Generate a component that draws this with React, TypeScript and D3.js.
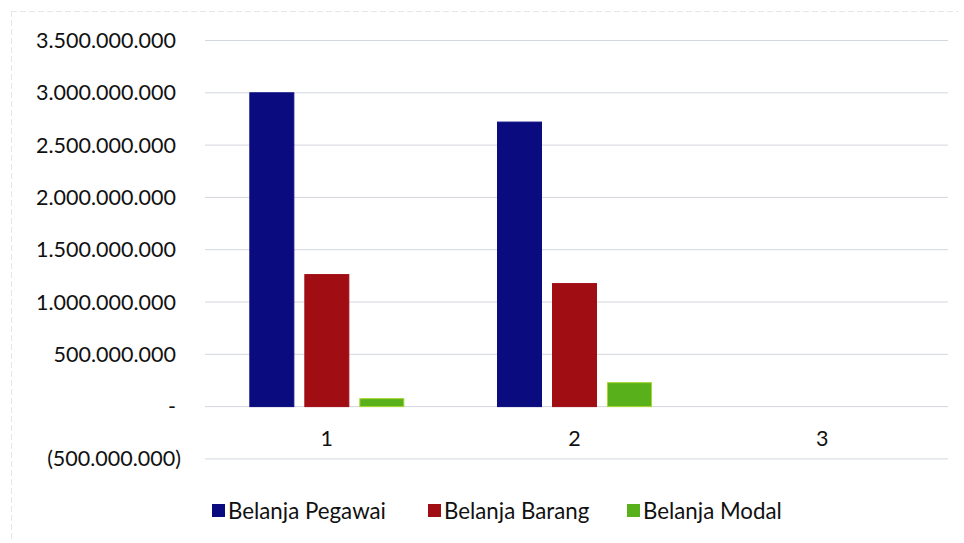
import React from "react";
import * as d3 from "d3";

const categories = ["1", "2", "3"];
const seriesNames = ["Belanja Pegawai", "Belanja Barang", "Belanja Modal"];
const pegawai = [3000000000, 2720000000, 0];
const barang = [1262000000, 1176000000, 0];
const modal = [76000000, 229000000, 0];
const yTicks = [-500000000, 0, 500000000, 1000000000, 1500000000, 2000000000, 2500000000, 3000000000, 3500000000];

const colors = ["#0b0b80", "#a00d12", "#58b01a"];
const strokes = ["#0b0b80", "#a00d12", "#a8d830"];

const W = 964;
const H = 543;
const left = 205;
const right = 948;
const yTop = 40.5;
const yBottom = 458.9;

function fmt(v: number): string {
  if (v === 0) return "-";
  const s = d3.format(",")(Math.abs(v)).replace(/,/g, ".");
  return v < 0 ? `(${s})` : s;
}

export default function App() {
  const series = [pegawai, barang, modal];
  const y = d3.scaleLinear().domain([-500000000, 3500000000]).range([yBottom, yTop]);
  const x = d3.scaleBand().domain(categories).range([left, right]).paddingInner(0).paddingOuter(0);
  const barW = 44;
  const step = 55;
  const font = "Lato, 'Open Sans', sans-serif";

  const legendX = [212, 428, 627];

  return (
    <svg width={W} height={H} style={{ position: "absolute", left: 0, top: 0, background: "#fff" }}>
      <rect x={0} y={0} width={W} height={H} fill="#fff" />
      <line x1={11} x2={958} y1={11.5} y2={11.5} stroke="#e4e6ea" strokeDasharray="6 3" />
      <line x1={11.5} x2={11.5} y1={11} y2={540} stroke="#e4e6ea" strokeDasharray="6 3" />
      {yTicks.map((t) => (
        <g key={t}>
          <line x1={left} x2={right} y1={y(t)} y2={y(t)} stroke="#d3d7de" strokeWidth={1} />
          <text
            x={t < 0 ? 181 : 176}
            y={y(t)}
            dy="0.35em"
            textAnchor="end"
            fontFamily={font}
            fontSize={21.5}
            fill="#111"
          >
            {fmt(t)}
          </text>
        </g>
      ))}
      {categories.map((c, i) => {
        const cx = (x(c) as number) + x.bandwidth() / 2 - 2;
        return (
          <g key={c}>
            {series.map((s, k) => {
              const v = s[i];
              if (v === 0) return null;
              const bx = cx - step - barW / 2 + k * step;
              return (
                <rect
                  key={k}
                  x={bx}
                  y={y(Math.max(v, 0))}
                  width={barW}
                  height={Math.abs(y(v) - y(0))}
                  fill={colors[k]}
                  stroke={strokes[k]}
                  strokeWidth={1}
                />
              );
            })}
            <text x={cx} y={438} dy="0.35em" textAnchor="middle" fontFamily={font} fontSize={21.5} fill="#111">
              {c}
            </text>
          </g>
        );
      })}
      {seriesNames.map((n, k) => (
        <g key={n}>
          <rect x={legendX[k]} y={504} width={13} height={13} fill={colors[k]} />
          <text x={legendX[k] + 16} y={511} dy="0.35em" fontFamily={font} fontSize={22.3} fill="#111">
            {n}
          </text>
        </g>
      ))}
    </svg>
  );
}
